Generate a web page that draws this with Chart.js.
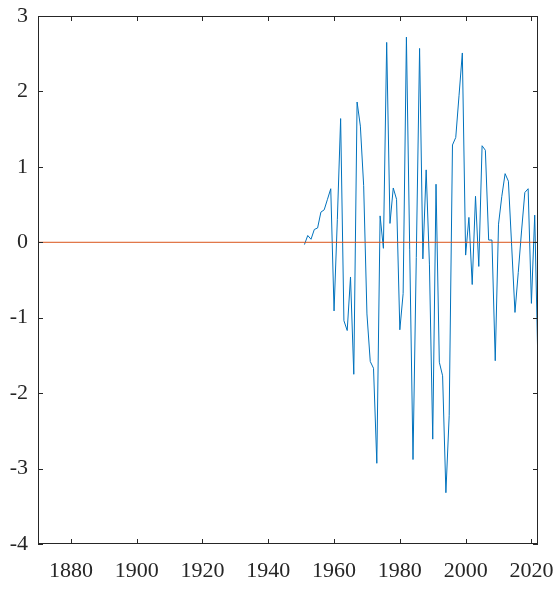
<!DOCTYPE html>
<html><head><meta charset="utf-8">
<script src="https://cdn.jsdelivr.net/npm/chart.js@4/dist/chart.umd.min.js"></script>
<style>html,body{margin:0;padding:0;background:#fff;}#wrap{width:560px;height:591px;}
#probe{font-family:'Liberation Serif';position:absolute;left:-1000px;top:0;font-size:22px;}</style>
</head><body><div id="wrap"><canvas id="c" width="560" height="591"></canvas></div><span id="probe">0123456789-</span>
<script>
const years = [1951,1952,1953,1954,1955,1956,1957,1958,1959,1960,
  1961,1962,1963,1964,1965,1966,1967,1968,1969,1970,
  1971,1972,1973,1974,1975,1976,1977,1978,1979,1980,
  1981,1982,1983,1984,1985,1986,1987,1988,1989,1990,
  1991,1992,1993,1994,1995,1996,1997,1998,1999,2000,
  2001,2002,2003,2004,2005,2006,2007,2008,2009,2010,
  2011,2012,2013,2014,2015,2016,2017,2018,2019,2020,
  2021,2022];
const values = [-0.03,0.09,0.04,0.17,0.19,0.40,0.43,0.57,0.71,-0.91,
  0.30,1.64,-1.04,-1.17,-0.46,-1.75,1.86,1.54,0.75,-0.95,
  -1.58,-1.67,-2.93,0.35,-0.08,2.65,0.25,0.72,0.57,-1.16,
  -0.68,2.72,-0.10,-2.88,-0.20,2.57,-0.22,0.96,-0.30,-2.61,
  0.77,-1.59,-1.77,-3.32,-2.30,1.29,1.39,1.95,2.51,-0.17,
  0.33,-0.56,0.61,-0.32,1.28,1.22,0.03,0.03,-1.57,0.24,
  0.61,0.91,0.81,-0.05,-0.93,-0.40,0.15,0.66,0.71,-0.81,
  0.36,-1.68];
const refYears = [1870, 2022];
const refValues = [0, 0];
const xTicks = [1880,1900,1920,1940,1960,1980,2000,2020];
const yTicks = [-4,-3,-2,-1,0,1,2,3];
const xRange = [1870, 2022];
const yRange = [-4, 3];

const seriesPts = years.map((yr, i) => ({x: yr, y: values[i]}));
const refPts = refYears.map((yr, i) => ({x: yr, y: refValues[i]}));

const boxPlugin = {
  id: 'box',
  afterDraw(chart) {
    const {ctx, chartArea: a, scales: {x, y}} = chart;
    ctx.save();
    ctx.strokeStyle = '#262626';
    ctx.lineWidth = 1;
    ctx.beginPath();
    const L = 5;
    xTicks.forEach(v => {
      const px = Math.round(x.getPixelForValue(v)) + 0.5;
      ctx.moveTo(px, a.bottom); ctx.lineTo(px, a.bottom - L);
      ctx.moveTo(px, a.top); ctx.lineTo(px, a.top + L);
    });
    yTicks.forEach(v => {
      const py = Math.round(y.getPixelForValue(v)) + 0.5;
      ctx.moveTo(a.left, py); ctx.lineTo(a.left + L, py);
      ctx.moveTo(a.right, py); ctx.lineTo(a.right - L, py);
    });
    ctx.stroke();
    ctx.strokeRect(a.left + 0.5, a.top + 0.5, a.width - 1, a.height - 1);
    ctx.restore();
  }
};

const tickFont = {family: "'Liberation Serif', 'Times New Roman', Tinos, serif", size: 22};

function draw() {
  new Chart(document.getElementById('c'), {
    type: 'line',
    data: {
      datasets: [
        {data: seriesPts, borderColor: '#0072BD', borderWidth: 1, pointRadius: 0, tension: 0, fill: false, order: 2},
        {data: refPts, borderColor: '#D95319', borderWidth: 1, pointRadius: 0, tension: 0, fill: false, order: 1}
      ]
    },
    options: {
      responsive: false,
      animation: false,
      devicePixelRatio: 1,
      layout: {padding: {top: 16, right: 22, left: 0, bottom: 0}},
      plugins: {legend: {display: false}, tooltip: {enabled: false}},
      scales: {
        x: {
          type: 'linear', min: xRange[0], max: xRange[1],
          grid: {display: false, drawTicks: false}, border: {display: false},
          afterBuildTicks: s => { s.ticks = xTicks.map(v => ({value: v})); },
          afterFit: s => { s.height = 47; s.paddingLeft = 0; s.paddingRight = 0; },
          ticks: {font: tickFont, color: '#262626', padding: 14, maxRotation: 0, autoSkip: false, callback: v => String(v)}
        },
        y: {
          type: 'linear', min: yRange[0], max: yRange[1],
          grid: {display: false, drawTicks: false}, border: {display: false},
          afterBuildTicks: s => { s.ticks = yTicks.map(v => ({value: v})); },
          afterFit: s => { s.width = 38; s.paddingTop = 0; s.paddingBottom = 0; },
          ticks: {font: tickFont, color: '#262626', padding: 10, autoSkip: false, callback: v => String(v)}
        }
      }
    },
    plugins: [boxPlugin]
  });
}
if (document.fonts && document.fonts.load) {
  document.fonts.load("22px 'Liberation Serif'").then(draw, draw);
} else { draw(); }
</script>
</body></html>
